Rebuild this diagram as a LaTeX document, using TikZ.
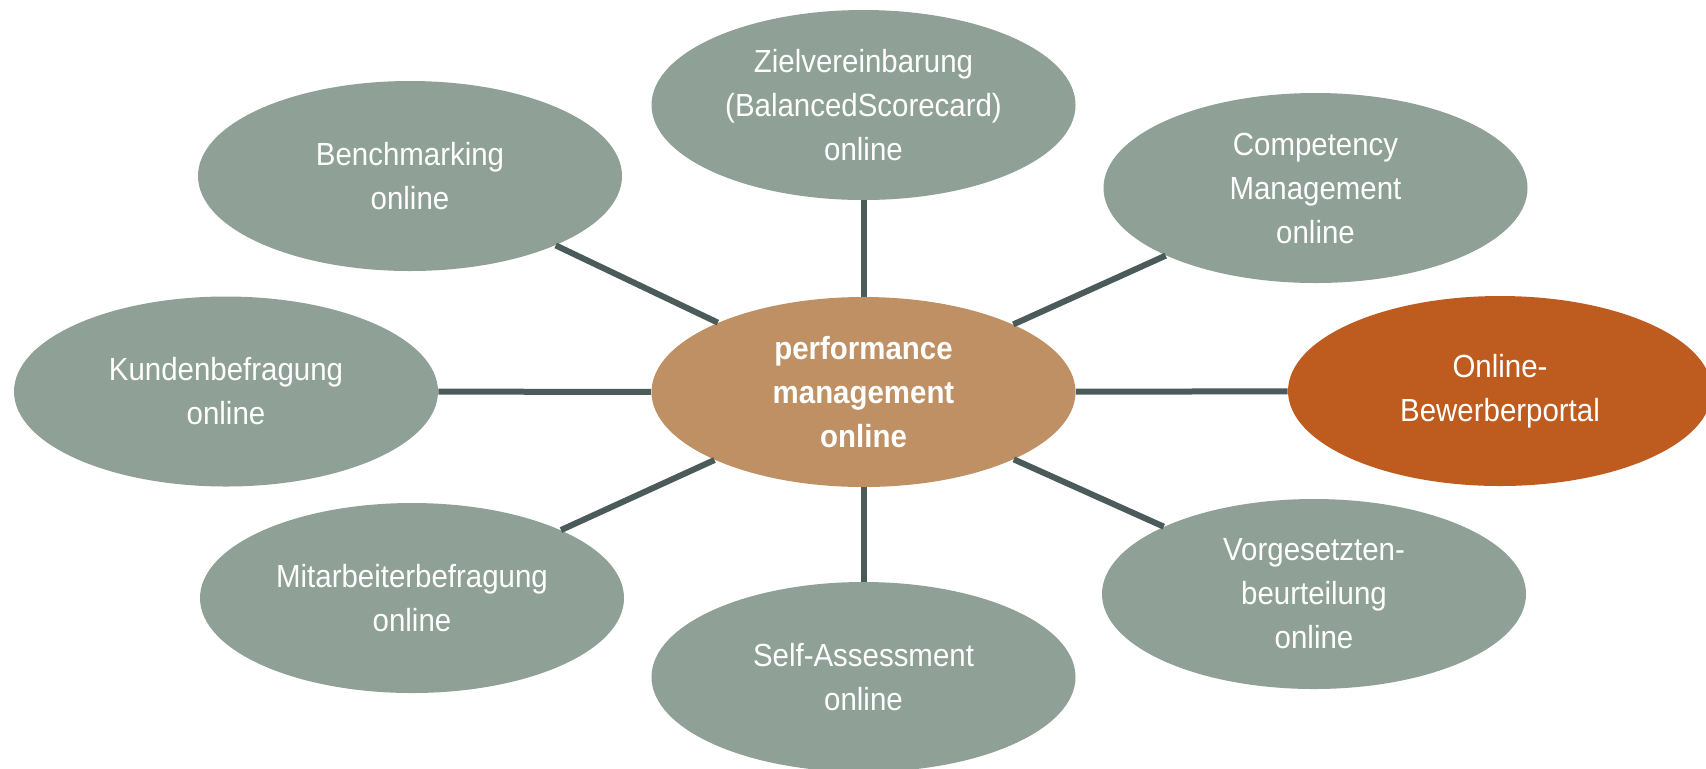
\documentclass[tikz,border=0pt]{standalone}
\usepackage{fontspec}
\setmainfont{Liberation Sans}[FakeStretch=0.92]
\usetikzlibrary{shapes.geometric}
\definecolor{sage}{RGB}{143,160,150}
\definecolor{tan}{RGB}{190,144,100}
\definecolor{rust}{RGB}{190,92,32}
\definecolor{slate}{RGB}{75,90,90}
\tikzset{
  bubble/.style={ellipse, fill=sage, draw=none, inner sep=0pt,
    minimum width=212pt, minimum height=95pt, text=white, align=center,
    font=\fontsize{16}{22}\selectfont},
  hub/.style={bubble, fill=tan, font=\fontsize{16}{22}\selectfont\bfseries},
  hot/.style={bubble, fill=rust},
  link/.style={draw=slate, line width=3pt}
}
\begin{document}
\begin{tikzpicture}[x=0.5pt,y=-0.5pt]
\useasboundingbox (0,0) rectangle (1706,768);
\clip (0,0) rectangle (1706,768);
\node[hub] (c) at (863.5,392) {performance\\management\\online};
\node[bubble] (ziel) at (863.5,105) {Zielvereinbarung\\(BalancedScorecard)\\online};
\node[bubble] (bench) at (410,176) {Benchmarking\\online};
\node[bubble] (comp) at (1315.5,188) {Competency\\Management\\online};
\node[bubble] (kunden) at (226,391.5) {Kundenbefragung\\online};
\node[hot] (bew) at (1500,391) {Online-\\Bewerberportal};
\node[bubble] (mit) at (412,598) {Mitarbeiterbefragung\\online};
\node[bubble] (vorg) at (1314,594) {Vorgesetzten-\\beurteilung\\online};
\node[bubble] (self) at (863.5,677) {Self-Assessment\\online};
\draw[link] (ziel) -- (c);
\draw[link] (bench) -- (c);
\draw[link] (comp) -- (c);
\draw[link] (kunden) -- (c);
\draw[link] (c) -- (bew);
\draw[link] (mit) -- (c);
\draw[link] (vorg) -- (c);
\draw[link] (c) -- (self);
\end{tikzpicture}
\end{document}
